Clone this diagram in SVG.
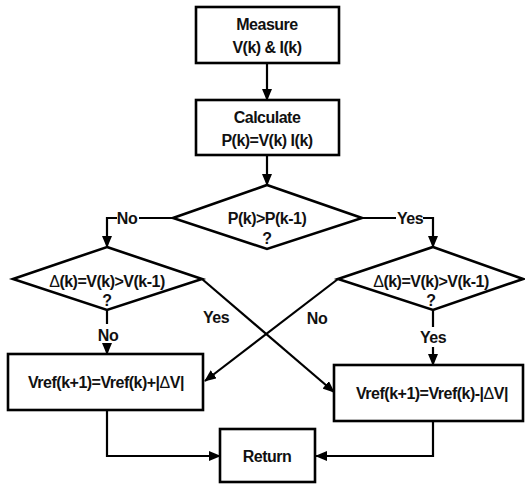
<svg xmlns="http://www.w3.org/2000/svg" width="525" height="485" viewBox="0 0 525 485">
<defs>
<style>
.box{fill:#fff;stroke:#000;stroke-width:2.6}
.t{font-family:"Liberation Sans",Arial,sans-serif;font-weight:bold;font-size:16px;letter-spacing:-0.5px;fill:#111;text-anchor:middle}
.c{fill:none;stroke:#000;stroke-width:2.2}
.d{font-weight:normal}
</style>
<marker id="ah" markerUnits="userSpaceOnUse" markerWidth="12" markerHeight="10" refX="11" refY="5" orient="auto">
<path d="M0,0 L12,5 L0,10 z" fill="#000"/>
</marker>
</defs>
<rect width="525" height="485" fill="#fff"/>
<g id="connectors">
<line class="c" x1="267" y1="63" x2="267" y2="100" marker-end="url(#ah)"/>
<line class="c" x1="267" y1="155" x2="267" y2="185" marker-end="url(#ah)"/>
<polyline class="c" points="173,218 139,218"/>
<polyline class="c" points="117,218 107,218 107,247" marker-end="url(#ah)"/>
<polyline class="c" points="362,218 396,218"/>
<polyline class="c" points="423,218 433,218 433,247" marker-end="url(#ah)"/>
<line class="c" x1="107" y1="310" x2="107" y2="324"/>
<line class="c" x1="107" y1="344" x2="107" y2="354" marker-end="url(#ah)"/>
<line class="c" x1="433" y1="310" x2="433" y2="327"/>
<line class="c" x1="433" y1="347" x2="433" y2="365" marker-end="url(#ah)"/>
<line class="c" x1="202" y1="279" x2="334" y2="392" marker-end="url(#ah)"/>
<line class="c" x1="338" y1="279" x2="205" y2="381" marker-end="url(#ah)"/>
<polyline class="c" points="107,410 107,456 220,456" marker-end="url(#ah)"/>
<polyline class="c" points="433,421 433,456 316,456" marker-end="url(#ah)"/>
<text class="t" x="127" y="224">No</text>
<text class="t" x="410" y="224">Yes</text>
<text class="t" x="108" y="341">No</text>
<text class="t" x="433" y="343">Yes</text>
<text class="t" x="216" y="323">Yes</text>
<text class="t" x="317" y="324">No</text>
</g>
<g id="measure">
<rect class="box" x="196" y="7" width="143" height="56"/>
<text class="t" x="267" y="30">Measure</text>
<text class="t" x="267" y="53">V(k) &amp; I(k)</text>
</g>
<g id="calculate">
<rect class="box" x="196" y="100" width="143" height="55"/>
<text class="t" x="267" y="123">Calculate</text>
<text class="t" x="267" y="146">P(k)=V(k) I(k)</text>
</g>
<g id="decision1">
<polygon class="box" points="267,185 362,218 267,249 173,218"/>
<text class="t" x="267" y="224">P(k)&gt;P(k-1)</text>
<text class="t" x="267" y="244">?</text>
</g>
<g id="decision2">
<polygon class="box" points="107,247 202,279 107,310 13,279"/>
<text class="t" x="107" y="287"><tspan class="d">Δ</tspan>(k)=V(k)&gt;V(k-1)</text>
<text class="t" x="107" y="306">?</text>
</g>
<g id="decision3">
<polygon class="box" points="433,247 523,279 433,310 338,279"/>
<text class="t" x="431" y="287"><tspan class="d">Δ</tspan>(k)=V(k)&gt;V(k-1)</text>
<text class="t" x="431" y="306">?</text>
</g>
<g id="increase">
<rect class="box" x="8" y="354" width="195" height="56"/>
<text class="t" x="106" y="388">Vref(k+1)=Vref(k)+|<tspan class="d">Δ</tspan>V|</text>
</g>
<g id="decrease">
<rect class="box" x="334" y="365" width="189" height="56"/>
<text class="t" x="432" y="399">Vref(k+1)=Vref(k)-|<tspan class="d">Δ</tspan>V|</text>
</g>
<g id="return">
<rect class="box" x="220" y="429" width="95" height="53"/>
<text class="t" x="267" y="462">Return</text>
</g>
</svg>
